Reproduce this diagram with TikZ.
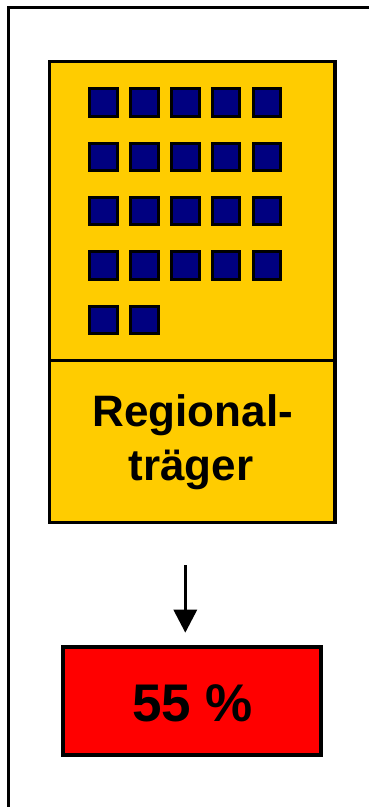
\documentclass[tikz,border=0pt]{standalone}
\usepackage{fontspec}
\setmainfont{Liberation Sans}
\usetikzlibrary{arrows.meta}
\definecolor{gold}{RGB}{255,204,0}
\definecolor{navyblue}{RGB}{0,0,128}
\definecolor{brightred}{RGB}{255,0,0}
\tikzset{
  frame/.style={line width=3pt},
  yellowbox/.style={draw=black, fill=gold, line width=3.3pt, rectangle, inner sep=0pt},
  window/.style={draw=black, fill=navyblue, line width=3pt, rectangle, inner sep=0pt, minimum width=27.5pt, minimum height=27.5pt},
  redbox/.style={draw=black, fill=brightred, line width=4pt, rectangle, inner sep=0pt},
  bigtxt/.style={font=\fontsize{44}{54}\selectfont\bfseries, inner sep=0pt},
  pcttxt/.style={font=\fontsize{53}{60}\selectfont\bfseries, inner sep=0pt},
  arr/.style={line width=3.3pt, -{Triangle[width=23pt,length=23pt]}}
}
\begin{document}
\begin{tikzpicture}[x=1pt,y=-1pt]
\useasboundingbox (0,0) rectangle (369,807);
% outer frame (cut at right and bottom)
\coordinate (fbl) at (8.5,807);
\coordinate (ftl) at (8.5,7.5);
\coordinate (ftr) at (369,7.5);
\draw[frame] (fbl) -- (ftl) -- (ftr);
% yellow building
\node[yellowbox, minimum width=285.7pt, minimum height=298.6pt] (upper) at (192.15,211) {};
\node[yellowbox, minimum width=285.7pt, minimum height=162pt] (lower) at (192.15,441.3) {};
% windows
\foreach \r/\y in {1/102.5,2/156.8,3/211.2,4/265.5} {
  \foreach \c/\x in {1/103.7,2/144.5,3/185.3,4/226.2,5/267} {
    \node[window] (w-\r-\c) at (\x,\y) {};
  }
}
\node[window] (w-5-1) at (103.7,319.8) {};
\node[window] (w-5-2) at (144.5,319.8) {};
% label
\node[bigtxt, anchor=base] (t1) at (192.8,426) {Regional-};
\node[bigtxt, anchor=base] (t2) at (191,480) {träger};
% result box
\node[redbox, minimum width=258pt, minimum height=108pt] (res) at (192,700.7) {};
\node[pcttxt, anchor=base] (pct) at (192.5,721.7) {55 \%};
% arrow
\coordinate (astart) at (185.3,565);
\draw[arr, shorten >=12pt] (astart) -- (astart |- res.north);
\end{tikzpicture}
\end{document}
